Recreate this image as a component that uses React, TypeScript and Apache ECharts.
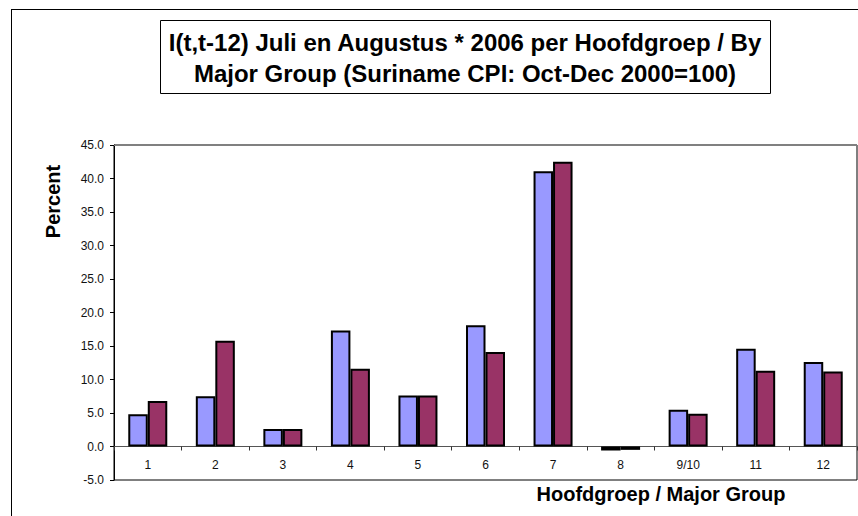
import React, { useEffect, useRef } from "react";
import * as echarts from "echarts";

const categories = ["1", "2", "3", "4", "5", "6", "7", "8", "9/10", "11", "12"];
const juli = [4.8, 7.5, 2.6, 17.3, 7.6, 18.1, 41.1, -0.6, 5.5, 14.6, 12.6];
const augustus = [6.8, 15.8, 2.6, 11.6, 7.6, 14.1, 42.5, -0.5, 4.9, 11.3, 11.2];
const titleLines = [
  "I(t,t-12) Juli en Augustus * 2006 per Hoofdgroep / By",
  "Major Group (Suriname CPI: Oct-Dec 2000=100)",
];
const yAxisTitle = "Percent";
const xAxisTitle = "Hoofdgroep / Major Group";

const FONT = "'Liberation Sans', Arial, Helvetica, sans-serif";

export default function App() {
  const ref = useRef<HTMLDivElement>(null);
  useEffect(() => {
    document.body.style.margin = "0";
    const chart = echarts.init(ref.current!, null, { renderer: "svg" });
    chart.setOption({
      animation: false,
      backgroundColor: "#ffffff",
      textStyle: { fontFamily: FONT },
      grid: {
        left: 114,
        right: 1,
        top: 145,
        bottom: 36,
        show: true,
        borderColor: "#000",
        borderWidth: 1,
        backgroundColor: "transparent",
      },
      xAxis: [
        {
          type: "category",
          data: categories,
          axisLine: { onZero: true, lineStyle: { color: "#555", width: 1 } },
          axisTick: { show: true, length: 4, lineStyle: { color: "#333" } },
          axisLabel: { color: "#111", fontSize: 12, margin: -21, fontFamily: FONT, interval: 0 },
          splitLine: { show: false },
        },
        {
          type: "category",
          data: categories,
          position: "top",
          axisLine: { onZero: false, lineStyle: { color: "#808080", width: 1 } },
          axisTick: { show: false },
          axisLabel: { show: false },
        },
      ],
      yAxis: {
        type: "value",
        min: -5,
        max: 45,
        interval: 5,
        axisLine: { show: true, onZero: false, lineStyle: { color: "#000", width: 1 } },
        axisTick: { show: true, length: 4, lineStyle: { color: "#000" } },
        axisLabel: {
          color: "#111",
          fontSize: 12,
          margin: 10,
          fontFamily: FONT,
          formatter: (v: number) => v.toFixed(1),
        },
        splitLine: { show: false },
      },
      series: [
        {
          name: "Juli 2006",
          type: "bar",
          data: juli,
          barWidth: 19.5,
          barGap: "0%",
          itemStyle: { color: "#9999FF", borderColor: "#000", borderWidth: 2 },
        },
        {
          name: "Augustus 2006",
          type: "bar",
          data: augustus,
          barWidth: 19.5,
          barGap: "0%",
          itemStyle: { color: "#993366", borderColor: "#000", borderWidth: 2 },
        },
      ],
      graphic: [
        {
          type: "line",
          shape: { x1: 11, y1: 9.5, x2: 858, y2: 9.5 },
          style: { stroke: "#000", lineWidth: 1 },
        },
        {
          type: "line",
          shape: { x1: 11.5, y1: 9, x2: 11.5, y2: 516 },
          style: { stroke: "#000", lineWidth: 1 },
        },
        {
          type: "rect",
          shape: { x: 160.5, y: 20.5, width: 610, height: 73 },
          style: { fill: "#fff", stroke: "#000", lineWidth: 1 },
        },
        {
          type: "text",
          x: 465,
          y: 57.5,
          style: {
            text: titleLines.join("\n"),
            font: `bold 24px ${FONT}`,
            fill: "#000",
            align: "center",
            verticalAlign: "middle",
            lineHeight: 31,
          },
        },
        {
          type: "text",
          x: 53,
          y: 201.5,
          rotation: Math.PI / 2,
          style: {
            text: yAxisTitle,
            font: `bold 20px ${FONT}`,
            fill: "#000",
            align: "center",
            verticalAlign: "middle",
          },
        },
        {
          type: "text",
          x: 661,
          y: 494,
          style: {
            text: xAxisTitle,
            font: `bold 20px ${FONT}`,
            fill: "#000",
            align: "center",
            verticalAlign: "middle",
          },
        },
      ],
    });
    return () => chart.dispose();
  }, []);
  return <div ref={ref} style={{ width: 858, height: 516 }} />;
}
